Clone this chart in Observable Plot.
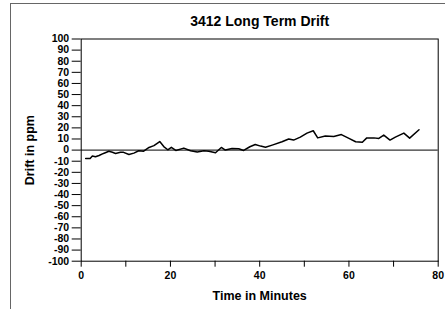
<!DOCTYPE html>
<html>
<head>
<meta charset="utf-8">
<script src="https://cdn.jsdelivr.net/npm/d3@7"></script>
<script src="https://cdn.jsdelivr.net/npm/@observablehq/plot@0.6"></script>
<style>
  html, body { margin: 0; padding: 0; background: #fff; }
  #wrap { position: relative; width: 445px; height: 309px; overflow: hidden; }
  #border { position: absolute; left: 10px; top: 3px; width: 460px; height: 330px;
            border-top: 1.5px solid #666; border-left: 1.5px solid #666; }
  #chart { position: absolute; left: 0; top: 0; }
</style>
</head>
<body>
<div id="wrap"><div id="border"></div><div id="chart"></div></div>
<script>
const chartTitle = "3412 Long Term Drift";
const xLabel = "Time in Minutes";
const yLabel = "Drift in ppm";
const minutes = [1, 2, 2.5, 3.2, 4, 5, 6.2, 7, 7.7, 8.8, 9.5, 10.7, 11.8, 12.9, 14, 15.2, 16.3, 17.6, 18.5, 19.4, 20.2, 21.2, 23, 24.5, 26, 27.5, 28.6, 30.1, 31.4, 32.3, 33.8, 35.3, 36.4, 37.8, 39, 40.2, 41.3, 42.8, 45, 46.5, 47.6, 49.1, 50.6, 52, 53, 54.7, 56.6, 58.3, 60, 61.5, 63, 64, 65.6, 66.7, 67.8, 69.2, 70.4, 72.3, 73.6, 75.7];
const drift = [-7.5, -7.5, -5.4, -6, -4.9, -3, -1, -2, -3, -2, -2, -4, -2.7, -0.6, -1, 2.4, 4, 7.7, 3.2, 0.3, 2.5, -0.3, 1.8, -0.6, -1.8, -0.6, -1, -2.4, 2.4, 0, 1.5, 1.2, -0.3, 3, 5, 3.6, 2.5, 4.5, 7.5, 10, 9, 11.7, 15.3, 17.4, 11, 12.6, 12.3, 14, 10.5, 7.5, 7, 11, 11, 10.5, 13.5, 9, 11.7, 15.3, 10.8, 18.3];
const xTicks = [0, 10, 20, 30, 40, 50, 60, 70, 80];
const yTicks = [-100, -90, -80, -70, -60, -50, -40, -30, -20, -10, 0, 10, 20, 30, 40, 50, 60, 70, 80, 90, 100];

const data = minutes.map((t, i) => ({t, v: drift[i]}));

const plot = Plot.plot({
  width: 445,
  height: 309,
  marginTop: 38.5,
  marginLeft: 80.7,
  marginRight: 7.3,
  marginBottom: 48.3,
  style: {fontFamily: "'Liberation Sans', Arial, sans-serif", fontWeight: "bold", color: "#000", background: "transparent"},
  x: {domain: [0, 80]},
  y: {domain: [-100, 100]},
  marks: [
    Plot.axisY({ticks: yTicks, tickSize: 9, tickPadding: 3, fontSize: 10.5, fontWeight: "bold",
      tickFormat: d => String(d), label: null}),
    Plot.axisX({ticks: xTicks, tickSize: 6, tickPadding: 4, fontSize: 10.5, fontWeight: "bold",
      tickFormat: d => d % 20 === 0 ? String(d) : "", label: null}),
    Plot.frame({stroke: "#000", strokeWidth: 1}),
    Plot.ruleY([0], {stroke: "#000", strokeWidth: 1}),
    Plot.line(data, {x: "t", y: "v", stroke: "#000", strokeWidth: 1.5}),
    Plot.text([chartTitle], {frameAnchor: "top", dy: -17.5, lineAnchor: "middle", textAnchor: "middle",
      text: d => d, fontSize: 14, fontWeight: "bold"}),
    Plot.text([xLabel], {frameAnchor: "bottom", dy: 35, lineAnchor: "middle", textAnchor: "middle",
      text: d => d, fontSize: 12.5, fontWeight: "bold"}),
    Plot.text([yLabel], {frameAnchor: "left", dx: -50.7, rotate: -90, lineAnchor: "middle", textAnchor: "middle",
      text: d => d, fontSize: 12.5, fontWeight: "bold"})
  ]
});
document.getElementById("chart").appendChild(plot);
</script>
</body>
</html>
